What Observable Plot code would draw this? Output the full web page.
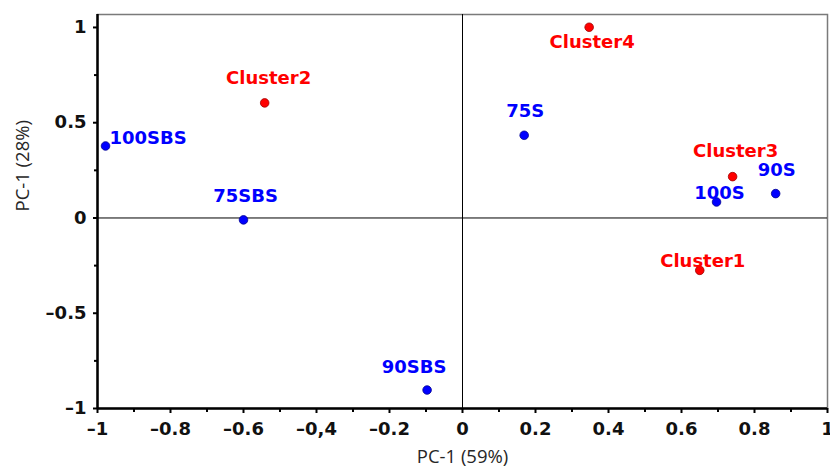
<!DOCTYPE html>
<html><head><meta charset="utf-8">
<script src="https://cdn.jsdelivr.net/npm/d3@7"></script>
<script src="https://cdn.jsdelivr.net/npm/@observablehq/plot@0.6"></script>
<style>body{margin:0;background:#fff}</style>
</head><body><div id="chart"></div>
<script>
// Samples (blue)
const sampleNames = ["100SBS", "75SBS", "90SBS", "75S", "100S", "90S"];
const samplePC1   = [-0.978, -0.600, -0.097, 0.169, 0.696, 0.858];
const samplePC2   = [0.378, -0.010, -0.903, 0.434, 0.084, 0.128];
// Clusters (red)
const clusterNames = ["Cluster1", "Cluster2", "Cluster3", "Cluster4"];
const clusterPC1   = [0.650, -0.542, 0.740, 0.347];
const clusterPC2   = [-0.275, 0.604, 0.217, 1.001];
// Axis ticks
const xTicks = [-1, -0.8, -0.6, -0.4, -0.2, 0, 0.2, 0.4, 0.6, 0.8, 1];
const xTickLabels = ["\u20131", "\u20130.8", "\u20130.6", "\u20130,4", "\u20130.2", "0", "0.2", "0.4", "0.6", "0.8", "1"];
const xMinorTicks = [-0.9, -0.7, -0.5, -0.3, -0.1, 0.1, 0.3, 0.5, 0.7, 0.9];
const yTicks = [-1, -0.5, 0, 0.5, 1];
const yTickLabels = ["\u20131", "\u20130.5", "0", "0.5", "1"];
const yMinorTicks = [-0.75, -0.25, 0.25, 0.75];
const xTitle = "PC-1 (59%)";
const yTitle = "PC-1 (28%)";

// label placement (pixel offsets, style only)
const sampleLabelOffsets = [[4, -8, "start"], [2, -24, "middle"], [-13, -23, "middle"], [1, -24, "middle"], [3, -9, "middle"], [1, -23, "middle"]];
const clusterLabelOffsets = [[3, -9], [4, -25], [3, -25], [3, 15]];

const samples = sampleNames.map((n, i) => ({name: n, x: samplePC1[i], y: samplePC2[i]}));
const clusters = clusterNames.map((n, i) => ({name: n, x: clusterPC1[i], y: clusterPC2[i]}));
const xLab = new Map(xTicks.map((t, i) => [t, xTickLabels[i]]));
const yLab = new Map(yTicks.map((t, i) => [t, yTickLabels[i]]));

const labelFont = {fontFamily: "DejaVu Sans", fontWeight: "bold", fontSize: 18};

const chart = Plot.plot({
  width: 830, height: 471,
  marginLeft: 97, marginRight: 3, marginTop: 14, marginBottom: 63,
  style: {fontFamily: "DejaVu Sans", background: "#fff", color: "#000", overflow: "visible"},
  x: {domain: [-1, 1]},
  y: {domain: [-1, 1.068]},
  marks: [
    Plot.frame({stroke: "#7a7a7a", strokeWidth: 1.5}),
    Plot.ruleX([0], {stroke: "#000", strokeWidth: 1}),
    Plot.ruleY([0], {stroke: "#000", strokeWidth: 1}),
    Plot.ruleX([-1], {stroke: "#000", strokeWidth: 2.5}),
    Plot.ruleY([-1], {stroke: "#000", strokeWidth: 2.5}),
    Plot.axisX(xTicks, {anchor: "bottom", tickSize: 5, tickPadding: 9, strokeWidth: 2,
      tickFormat: d => xLab.get(d), label: null, ...labelFont, fill: "#111"}),
    Plot.axisX(xMinorTicks, {anchor: "bottom", tickSize: 4, strokeWidth: 2, tickFormat: () => "", label: null}),
    Plot.axisY(yTicks, {anchor: "left", tickSize: 4, tickPadding: 7, strokeWidth: 2,
      tickFormat: d => yLab.get(d), label: null, ...labelFont, fill: "#111"}),
    Plot.axisY(yMinorTicks, {anchor: "left", tickSize: 3, strokeWidth: 2, tickFormat: () => "", label: null}),
    Plot.text([xTitle], {frameAnchor: "bottom", dy: 54, fontFamily: "Open Sans", fontSize: 18.5, fill: "#262626"}),
    Plot.text([yTitle], {frameAnchor: "left", dx: -74, rotate: -90, fontFamily: "Open Sans", fontSize: 18.5, fill: "#262626"}),
    Plot.dot(clusters, {x: "x", y: "y", r: 4.3, fill: "#ff0000", stroke: "#a00000", strokeWidth: 0.8}),
    Plot.dot(samples, {x: "x", y: "y", r: 4.3, fill: "#0000ff", stroke: "#000090", strokeWidth: 0.8}),
    ...samples.map((d, i) => Plot.text([d], {x: "x", y: "y", text: "name", dx: sampleLabelOffsets[i][0], dy: sampleLabelOffsets[i][1],
      textAnchor: sampleLabelOffsets[i][2], fill: "#0000ff", ...labelFont})),
    ...clusters.map((d, i) => Plot.text([d], {x: "x", y: "y", text: "name", dx: clusterLabelOffsets[i][0], dy: clusterLabelOffsets[i][1],
      fill: "#ff0000", ...labelFont}))
  ]
});
document.getElementById("chart").append(chart);
</script>
</body></html>
